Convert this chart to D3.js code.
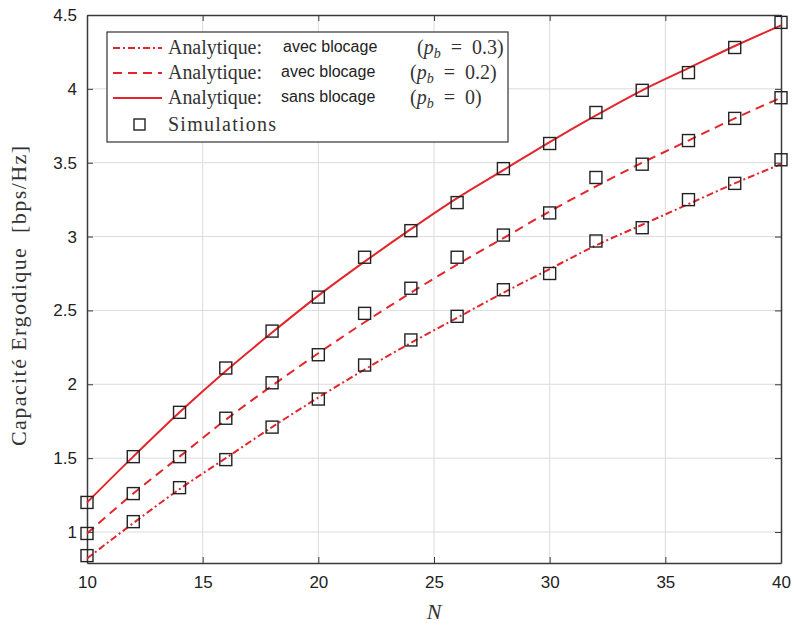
<!DOCTYPE html>
<html>
<head>
<meta charset="utf-8">
<script src="https://cdn.jsdelivr.net/npm/d3@7"></script>
<style>
  body { margin: 0; background: #fff; }
</style>
</head>
<body>
<div id="chart"></div>
<script>
// N values (abscissa)
var N = [10, 12, 14, 16, 18, 20, 22, 24, 26, 28, 30, 32, 34, 36, 38, 40];

// analytic curves
var analytique03 = [0.82, 1.06, 1.29, 1.50, 1.71, 1.91, 2.10, 2.28, 2.45, 2.62, 2.78, 2.94, 3.08, 3.22, 3.36, 3.49];
var analytique02 = [0.99, 1.26, 1.51, 1.76, 1.99, 2.21, 2.42, 2.62, 2.81, 2.99, 3.17, 3.34, 3.50, 3.65, 3.80, 3.94];
var analytique0  = [1.20, 1.51, 1.81, 2.09, 2.35, 2.60, 2.83, 3.05, 3.26, 3.45, 3.64, 3.82, 3.99, 4.14, 4.29, 4.43];

// simulations
var sim03 = [0.84, 1.07, 1.30, 1.49, 1.71, 1.90, 2.13, 2.30, 2.46, 2.64, 2.75, 2.97, 3.06, 3.25, 3.36, 3.52];
var sim02 = [0.99, 1.26, 1.51, 1.77, 2.01, 2.20, 2.48, 2.65, 2.86, 3.01, 3.16, 3.40, 3.49, 3.65, 3.80, 3.94];
var sim0  = [1.20, 1.51, 1.81, 2.11, 2.36, 2.59, 2.86, 3.04, 3.23, 3.46, 3.63, 3.84, 3.99, 4.11, 4.28, 4.45];

var xTicks = [10, 15, 20, 25, 30, 35, 40];
var yTicks = [1, 1.5, 2, 2.5, 3, 3.5, 4, 4.5];

var W = 794, H = 629;
var margin = {top: 15, right: 13, bottom: 66, left: 87},
    width = W - margin.left - margin.right,
    height = H - margin.top - margin.bottom;

var red = "#e3262b";
var serif = "'Liberation Serif', 'Times New Roman', serif";
var sans = "'Liberation Sans', Arial, sans-serif";

var svg = d3.select("#chart")
  .append("svg")
  .attr("width", W)
  .attr("height", H)
  .append("g")
  .attr("transform", "translate(" + margin.left + "," + margin.top + ")");

var x = d3.scaleLinear().domain([10, 40]).range([0, width]);
var y = d3.scaleLinear().domain([0.79, 4.5]).range([height, 0]);

// grid
svg.append("g").selectAll("line")
  .data(xTicks.slice(1, -1))
  .enter().append("line")
  .attr("x1", function(d) {return x(d);})
  .attr("x2", function(d) {return x(d);})
  .attr("y1", 0).attr("y2", height)
  .style("stroke", "#dcdcdc").style("stroke-width", 1);
svg.append("g").selectAll("line")
  .data(yTicks.slice(0, -1))
  .enter().append("line")
  .attr("y1", function(d) {return y(d);})
  .attr("y2", function(d) {return y(d);})
  .attr("x1", 0).attr("x2", width)
  .style("stroke", "#dcdcdc").style("stroke-width", 1);

// axes (inward ticks, box)
var fmt = d3.format("~g");
var xAxis = d3.axisBottom(x).tickValues(xTicks).tickFormat(fmt).tickSizeInner(-6).tickSizeOuter(0).tickPadding(13);
var yAxis = d3.axisLeft(y).tickValues(yTicks).tickFormat(fmt).tickSizeInner(-6).tickSizeOuter(0).tickPadding(10);

svg.append("g")
  .attr("class", "axis-x")
  .attr("transform", "translate(0," + height + ")")
  .call(xAxis);
svg.append("g")
  .attr("class", "axis-y")
  .call(yAxis);
svg.append("g")
  .call(d3.axisTop(x).tickValues(xTicks).tickSizeInner(-6).tickSizeOuter(0).tickFormat(""));
svg.append("g")
  .attr("transform", "translate(" + width + ",0)")
  .call(d3.axisRight(y).tickValues(yTicks).tickSizeInner(-6).tickSizeOuter(0).tickFormat(""));

svg.selectAll(".domain").style("stroke", "#3a3a3a").style("stroke-width", 1.5);
svg.selectAll(".tick line").style("stroke", "#3a3a3a").style("stroke-width", 1);
svg.selectAll(".tick text")
  .style("fill", "#222")
  .style("font-family", sans)
  .style("font-size", "17px");

// curves
var line = d3.line()
  .x(function(d) {return x(d[0]);})
  .y(function(d) {return y(d[1]);})
  .curve(d3.curveMonotoneX);

var series = [
  {vals: analytique03, sim: sim03, dash: "7,3,2,3"},
  {vals: analytique02, sim: sim02, dash: "9,6"},
  {vals: analytique0,  sim: sim0,  dash: null}
];

series.forEach(function(s) {
  svg.append("path")
    .datum(N.map(function(n, i) {return [n, s.vals[i]];}))
    .attr("d", line)
    .style("fill", "none")
    .style("stroke", red)
    .style("stroke-width", 2)
    .style("stroke-dasharray", s.dash);
});

series.forEach(function(s) {
  svg.append("g").selectAll("rect")
    .data(N.map(function(n, i) {return [n, s.sim[i]];}))
    .enter().append("rect")
    .attr("x", function(d) {return x(d[0]) - 6;})
    .attr("y", function(d) {return y(d[1]) - 6;})
    .attr("width", 12).attr("height", 12)
    .style("fill", "none")
    .style("stroke", "#222")
    .style("stroke-width", 1.4);
});

// axis labels
svg.append("text")
  .attr("transform", "translate(" + (-61) + "," + (height / 2 + 7) + ") rotate(-90)")
  .attr("textLength", 300)
  .attr("lengthAdjust", "spacing")
  .style("text-anchor", "middle")
  .style("white-space", "pre")
  .style("font-family", serif)
  .style("font-size", "22px")
  .style("fill", "#333")
  .text("Capacité Ergodique  [bps/Hz]");

svg.append("text")
  .attr("x", width / 2)
  .attr("y", height + 56)
  .style("text-anchor", "middle")
  .style("font-family", serif)
  .style("font-style", "italic")
  .style("font-size", "22px")
  .style("fill", "#333")
  .text("N");

// legend
var legend = svg.append("g").attr("transform", "translate(" + (107 - margin.left) + "," + (32 - margin.top) + ")");
legend.append("rect")
  .attr("width", 401).attr("height", 110)
  .style("fill", "#fff").style("stroke", "#333").style("stroke-width", 1.2);

var legendRows = [
  {kind: "avec", pb: "0.3", dash: "7,3,2,3", px: 310},
  {kind: "avec", pb: "0.2", dash: "9,6", px: 303},
  {kind: "sans", pb: "0", dash: null, px: 303}
];

legendRows.forEach(function(r, i) {
  var ry = 16 + i * 25;
  legend.append("line")
    .attr("x1", 6).attr("x2", 55)
    .attr("y1", ry).attr("y2", ry)
    .style("stroke", red).style("stroke-width", 2)
    .style("stroke-dasharray", r.dash);
  legend.append("text")
    .attr("x", 61).attr("y", ry + 6)
    .attr("textLength", 94)
    .attr("lengthAdjust", "spacing")
    .style("font-family", serif).style("font-size", "20px").style("fill", "#333")
    .text("Analytique:");
  legend.append("text")
    .attr("x", i === 0 ? 176 : 174).attr("y", ry + 4)
    .style("font-family", sans).style("font-size", "16px").style("fill", "#222")
    .text(r.kind + " blocage");
  var t = legend.append("text")
    .attr("x", r.px).attr("y", ry + 6)
    .style("font-family", serif).style("font-size", "20px").style("fill", "#333")
    .style("white-space", "pre");
  t.append("tspan").text("(");
  t.append("tspan").style("font-style", "italic").text("p");
  t.append("tspan").attr("dy", 4).style("font-style", "italic").style("font-size", "14px").text("b");
  t.append("tspan").attr("dy", -4).text("  =  " + r.pb + ")");
});

legend.append("rect")
  .attr("x", 27).attr("y", 87).attr("width", 11).attr("height", 11)
  .style("fill", "none").style("stroke", "#222").style("stroke-width", 1.4);
legend.append("text")
  .attr("x", 61).attr("y", 99)
  .attr("textLength", 108)
  .attr("lengthAdjust", "spacing")
  .style("font-family", serif).style("font-size", "20px").style("fill", "#333")
  .text("Simulations");
</script>
</body>
</html>
